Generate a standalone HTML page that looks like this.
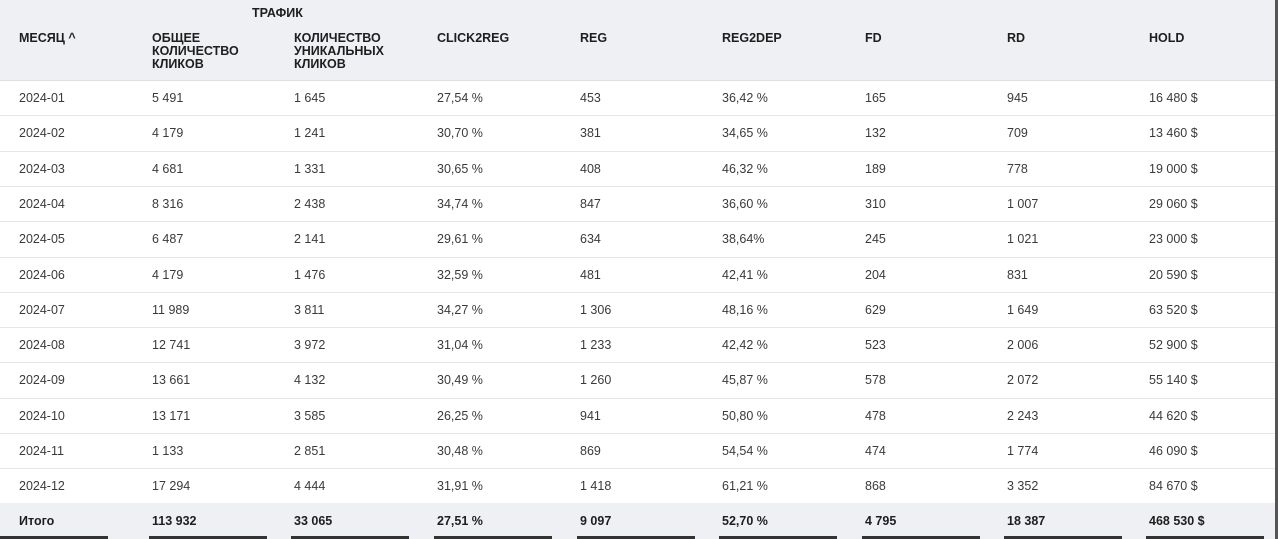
<!DOCTYPE html>
<html><head><meta charset="utf-8">
<style>
body{margin:0;width:1280px;height:539px;background:#fff;font-family:"Liberation Sans","Noto Sans CJK SC",sans-serif;color:#2a2a2a;overflow:hidden;position:relative}
.a{position:absolute;white-space:nowrap}
.h{font-weight:bold;font-size:12.5px;color:#1e1e1e;line-height:13px}
.c{font-size:12.5px;color:#3a3a3a}
.f{font-size:12.5px;font-weight:bold;color:#1e1e1e}
</style></head><body>
<div class="a" style="left:0;top:0;width:1276px;height:80px;background:#eef0f3;border-bottom:1px solid #dde0e4"></div>
<div class="a" style="left:0;top:503px;width:1276px;height:36px;background:#eef0f3"></div>
<div class="a" style="left:1275px;top:0;width:3px;height:539px;background:#555"></div>
<div class="a h" style="left:252px;top:7px">ТРАФИК</div>
<div id="t"></div>
<script>
const cols=[19,152,294,437,580,722,865,1007,1149];
const headers=["МЕСЯЦ ^","ОБЩЕЕ<br>КОЛИЧЕСТВО<br>КЛИКОВ","КОЛИЧЕСТВО<br>УНИКАЛЬНЫХ<br>КЛИКОВ","CLICK2REG","REG","REG2DEP","FD","RD","HOLD"];
const months=["2024-01","2024-02","2024-03","2024-04","2024-05","2024-06","2024-07","2024-08","2024-09","2024-10","2024-11","2024-12"];
const clicks=["5 491","4 179","4 681","8 316","6 487","4 179","11 989","12 741","13 661","13 171","1 133","17 294"];
const uniq=["1 645","1 241","1 331","2 438","2 141","1 476","3 811","3 972","4 132","3 585","2 851","4 444"];
const c2r=["27,54 %","30,70 %","30,65 %","34,74 %","29,61 %","32,59 %","34,27 %","31,04 %","30,49 %","26,25 %","30,48 %","31,91 %"];
const reg=["453","381","408","847","634","481","1 306","1 233","1 260","941","869","1 418"];
const r2d=["36,42 %","34,65 %","46,32 %","36,60 %","38,64%","42,41 %","48,16 %","42,42 %","45,87 %","50,80 %","54,54 %","61,21 %"];
const fd=["165","132","189","310","245","204","629","523","578","478","474","868"];
const rd=["945","709","778","1 007","1 021","831","1 649","2 006","2 072","2 243","1 774","3 352"];
const hold=["16 480 $","13 460 $","19 000 $","29 060 $","23 000 $","20 590 $","63 520 $","52 900 $","55 140 $","44 620 $","46 090 $","84 670 $"];
const totals=["Итого","113 932","33 065","27,51 %","9 097","52,70 %","4 795","18 387","468 530 $"];
const t=document.getElementById('t');
headers.forEach((h,i)=>{const d=document.createElement('div');d.className='a h';


d.style.left=cols[i]+'px';d.style.top='32px';d.innerHTML=h;t.appendChild(d);});
const series=[months,clicks,uniq,c2r,reg,r2d,fd,rd,hold];
months.forEach((m,r)=>{const y=80+r*35.3;
if(r>0){const l=document.createElement('div');l.className='a';


l.style.cssText=`left:0;top:${y}px;width:1275px;height:1px;background:#e4e6ea`;t.appendChild(l);}
series.forEach((s,i)=>{const d=document.createElement('div');d.className='a c';


d.style.left=cols[i]+'px';d.style.top=(y+11)+'px';d.textContent=s[r];t.appendChild(d);});});
totals.forEach((v,i)=>{const d=document.createElement('div');d.className='a f';


d.style.left=cols[i]+'px';d.style.top='514px';d.textContent=v;t.appendChild(d);
const b=document.createElement('div');b.className='a';


b.style.cssText=`left:${i==0?0:cols[i]-3}px;top:536px;width:${i==0?108:118}px;height:3px;background:#333`;t.appendChild(b);});
</script>
</body></html>
